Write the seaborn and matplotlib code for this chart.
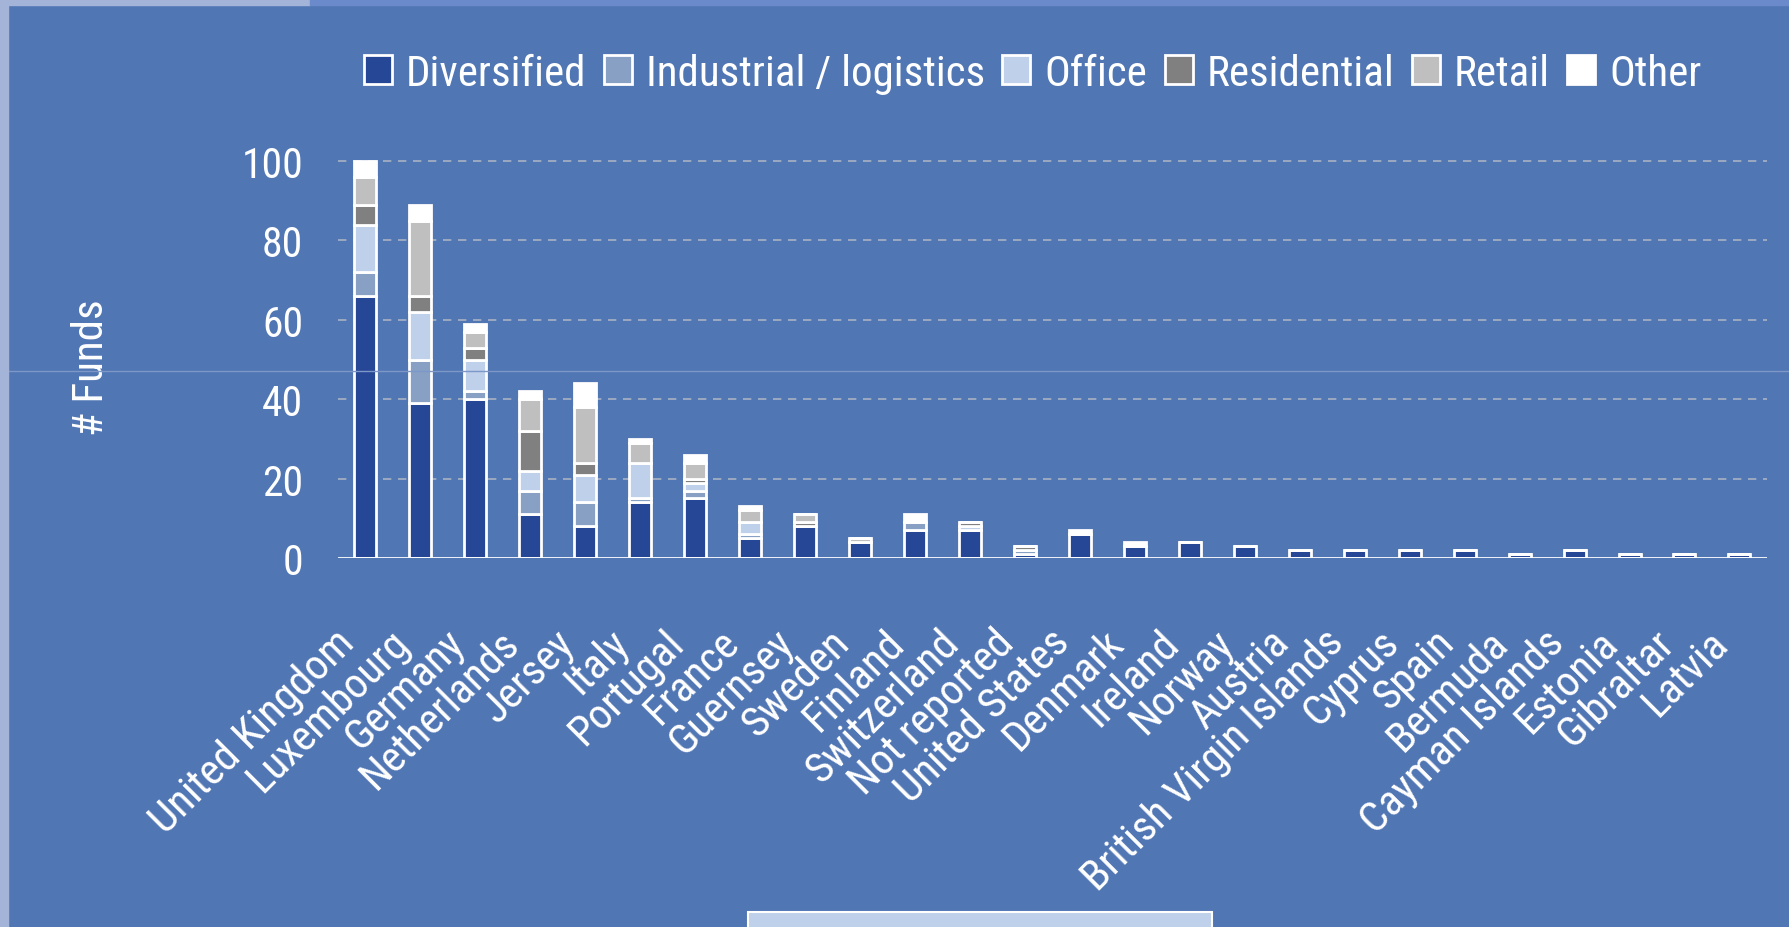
import matplotlib
matplotlib.use('Agg')
import matplotlib.pyplot as plt
import matplotlib.transforms as mtransforms
import seaborn as sns
import numpy as np
from matplotlib.patches import Rectangle
from matplotlib.lines import Line2D

# Data
countries = ['United Kingdom', 'Luxembourg', 'Germany', 'Netherlands', 'Jersey', 'Italy',
             'Portugal', 'France', 'Guernsey', 'Sweden', 'Finland', 'Switzerland',
             'Not reported', 'United States', 'Denmark', 'Ireland', 'Norway', 'Austria',
             'British Virgin Islands', 'Cyprus', 'Spain', 'Bermuda', 'Cayman Islands',
             'Estonia', 'Gibraltar', 'Latvia']
diversified = [66, 39, 40, 11, 8, 14, 15, 5, 8, 4, 7, 7, 1, 6, 3, 4, 3, 2, 2, 2, 2, 1, 2, 1, 1, 1]
industrial = [6, 11, 2, 6, 6, 1, 2, 1, 0, 0, 2, 0, 1, 0, 0, 0, 0, 0, 0, 0, 0, 0, 0, 0, 0, 0]
office = [12, 12, 8, 5, 7, 9, 2, 3, 0, 0, 0, 1, 0, 0, 0, 0, 0, 0, 0, 0, 0, 0, 0, 0, 0, 0]
residential = [5, 4, 3, 10, 3, 0, 1, 0, 1, 0, 0, 1, 1, 0, 0, 0, 0, 0, 0, 0, 0, 0, 0, 0, 0, 0]
retail = [7, 19, 4, 8, 14, 5, 4, 3, 2, 1, 0, 0, 0, 0, 0, 0, 0, 0, 0, 0, 0, 0, 0, 0, 0, 0]
other = [4, 4, 2, 2, 6, 1, 2, 1, 0, 0, 2, 0, 0, 1, 1, 0, 0, 0, 0, 0, 0, 0, 0, 0, 0, 0]

series_names = ['Diversified', 'Industrial / logistics', 'Office', 'Residential', 'Retail', 'Other']
series_values = [diversified, industrial, office, residential, retail, other]
series_colors = ['#264796', '#87a0c4', '#bfd0ea', '#808080', '#bfbfbf', '#ffffff']

BG = '#5176b4'

sns.set_style('white')
# narrow sans like the original; fall back to Liberation Sans if missing
plt.rcParams['font.family'] = ['Roboto Condensed', 'Liberation Sans', 'DejaVu Sans']

fig = plt.figure(figsize=(17.9, 9.28), dpi=100, facecolor=BG)
ax = fig.add_axes([0.1888, 0.3976, 0.7983, 0.4491])
ax.set_facecolor(BG)

# Stacked bars, one seaborn barplot per layer
bottom = np.zeros(len(countries))
for name, vals, col in zip(series_names, series_values, series_colors):
    sns.barplot(x=countries, y=vals, bottom=bottom, color=col, saturation=1,
                width=0.4, edgecolor='white', linewidth=2, label=name, ax=ax)
    bottom = bottom + np.array(vals)

ax.set_ylim(0, 105)
ax.set_xlim(-0.5, len(countries) - 0.5)
ax.set_yticks([0, 20, 40, 60, 80, 100])
for y in [20, 40, 60, 80, 100]:
    ax.axhline(y, color='#a9b1c4', lw=1.2, ls=(0, (5, 4)), zorder=0)
ax.axhline(0, color='white', lw=2, zorder=3)

for s in ax.spines.values():
    s.set_visible(False)
ax.tick_params(axis='y', colors='white', labelsize=30, length=0, pad=25)
ax.tick_params(axis='x', colors='white', labelsize=31, length=0, pad=62)
shift = mtransforms.ScaledTranslation(-9 / 100, 0, fig.dpi_scale_trans)
for lab in ax.get_xticklabels():
    lab.set_rotation(45)
    lab.set_ha('right')
    lab.set_va('baseline')
    lab.set_rotation_mode('anchor')
    lab.set_transform(lab.get_transform() + shift)
ax.set_xlabel('')
ax.set_ylabel('# Funds', color='white', fontsize=31)
ax.yaxis.set_label_coords(-0.158, 0.458)

leg = ax.legend(loc='center', bbox_to_anchor=(0.577, 0.920), bbox_transform=fig.transFigure,
                ncol=6, frameon=False, fontsize=31, handlelength=0.65, handleheight=0.65,
                handletextpad=0.33, columnspacing=0.4, labelcolor='white')

# slide decorations around the chart
fig.patches.append(Rectangle((0, 1 - 6 / 928), 310 / 1790, 6 / 928, transform=fig.transFigure,
                             color='#a3b4d8', zorder=0))
fig.patches.append(Rectangle((310 / 1790, 1 - 6 / 928), 1 - 310 / 1790, 6 / 928,
                             transform=fig.transFigure, color='#6b8acb', zorder=0))
fig.patches.append(Rectangle((0, 0), 8 / 1790, 1, transform=fig.transFigure,
                             color='#a3b4d8', zorder=0))
fig.patches.append(Rectangle((748 / 1790, -0.01), 464 / 1790, (928 - 913) / 928 + 0.01,
                             transform=fig.transFigure, facecolor='#bfd0ea',
                             edgecolor='white', lw=1.5, zorder=0))
fig.lines.append(Line2D([8 / 1790, 1], [1 - 372 / 928, 1 - 372 / 928], transform=fig.transFigure,
                        color='#7d97c8', lw=1, zorder=0))

fig.savefig('out.png', dpi=100, facecolor=BG)
